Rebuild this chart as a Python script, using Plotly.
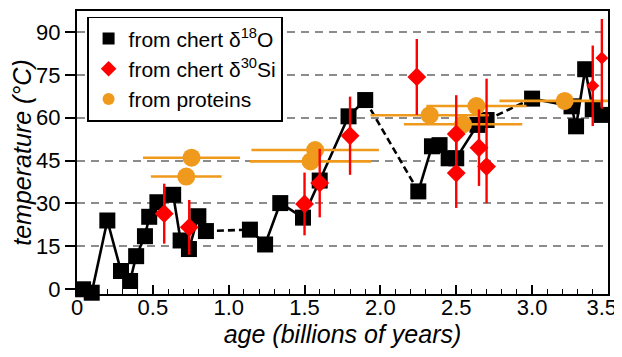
import plotly.graph_objects as go

# ---- data ----
# chert d18O temperatures (black squares)
age_o18 = [0.04, 0.097, 0.20, 0.29, 0.35, 0.39, 0.448, 0.476, 0.53, 0.634, 0.683, 0.738, 0.80, 0.85,
           1.14, 1.24, 1.34, 1.49, 1.60, 1.79, 1.90,
           2.25, 2.34, 2.39, 2.45, 2.50, 2.64, 2.70,
           3.00, 3.26, 3.29, 3.35, 3.40, 3.46]
temp_o18 = [-0.1, -1.3, 24.0, 6.3, 2.8, 11.5, 18.5, 25.3, 30.4, 33.0, 17.0, 14.0, 25.5, 20.3,
            20.8, 15.6, 30.1, 25.0, 38.0, 60.5, 66.2,
            34.2, 50.0, 50.4, 45.8, 45.8, 57.5, 59.2,
            66.7, 64.0, 57.0, 77.0, 63.0, 61.0]
# indices after which the connection to the next point is dashed (gaps in the record)
dashed_after = [13, 20, 27]

# chert d30Si temperatures (red diamonds)
age_si = [0.575, 0.74, 1.50, 1.60, 1.80, 2.24, 2.50, 2.50, 2.65, 2.70, 3.40, 3.46]
temp_si = [26.4, 21.6, 29.8, 37.1, 53.7, 74.3, 54.3, 40.6, 49.5, 42.9, 71.2, 80.9]
err_si_plus = [10.5, 9.6, 11.0, 12.0, 13.7, 13.3, 13.6, 12.2, 13.4, 30.8, 14.1, 13.7]
err_si_minus = [10.5, 9.6, 11.0, 12.0, 13.7, 13.3, 13.6, 12.2, 13.4, 12.8, 14.1, 17.7]

# protein-based temperatures (orange circles)
age_prot = [0.755, 0.72, 1.57, 1.54, 2.325, 2.545, 2.633, 3.215]
temp_prot = [46.0, 39.4, 48.7, 44.7, 60.9, 57.7, 64.1, 65.9]
err_age_prot = [0.32, 0.233, 0.42, 0.40, 0.39, 0.39, 0.33, 0.43]

x_ticks = [0, 0.5, 1.0, 1.5, 2.0, 2.5, 3.0, 3.5]
x_ticklabels = ["0", "0.5", "1.0", "1.5", "2.0", "2.5", "3.0", "3.5&nbsp;&nbsp;"]
y_ticks = [0, 15, 30, 45, 60, 75, 90]
y_grid = [15, 30, 45, 60, 75, 90]

series_names = ["from chert δ<sup>18</sup>O", "from chert δ<sup>30</sup>Si", "from proteins"]

# ---- styles ----
BLACK = "#000000"
RED = "#ff0000"
ORANGE = "#ef9a1c"
si_sizes = [14.5] * 10 + [10, 10]

# build solid and dashed line pieces from the data
solid_x, solid_y, dash_x, dash_y = [], [], [], []
for i in range(len(age_o18)):
    solid_x.append(age_o18[i])
    solid_y.append(temp_o18[i])
    if i in dashed_after:
        solid_x.append(None)
        solid_y.append(None)
        dash_x += [age_o18[i], age_o18[i + 1], None]
        dash_y += [temp_o18[i], temp_o18[i + 1], None]

fig = go.Figure()
fig.add_trace(go.Scatter(x=dash_x, y=dash_y, mode="lines",
                         line=dict(color=BLACK, width=2.6, dash="7px,4px"),
                         showlegend=False, hoverinfo="skip"))
fig.add_trace(go.Scatter(x=solid_x, y=solid_y, mode="lines",
                         line=dict(color=BLACK, width=2.6),
                         showlegend=False, hoverinfo="skip", cliponaxis=False))
fig.add_trace(go.Scatter(x=age_o18, y=temp_o18, mode="markers",
                         marker=dict(symbol="square", size=16, color=BLACK, opacity=1),
                         name=series_names[0], legendrank=1, cliponaxis=False))
fig.add_trace(go.Scatter(x=age_prot, y=temp_prot, mode="markers",
                         marker=dict(symbol="circle", size=18, color=ORANGE, opacity=1),
                         error_x=dict(type="data", array=err_age_prot, symmetric=True,
                                      color=ORANGE, thickness=2.6, width=0),
                         name=series_names[2], legendrank=3))
fig.add_trace(go.Scatter(x=age_si, y=temp_si, mode="markers",
                         marker=dict(symbol="diamond", size=si_sizes, color=RED, opacity=1,
                                     line=dict(width=0)),
                         error_y=dict(type="data", array=err_si_plus, arrayminus=err_si_minus,
                                      symmetric=False, color=RED, thickness=2.4, width=0),
                         name=series_names[1], legendrank=2))

# the page has an 8px body margin, so margins are reduced by 8px on the left/top
fig.update_layout(
    width=622, height=357,
    margin=dict(l=69, r=21, t=1, b=71),
    paper_bgcolor="white", plot_bgcolor="white",
    font=dict(family="Liberation Sans, Arial, sans-serif", size=22, color=BLACK),
    showlegend=True,
    legend=dict(x=0.0188, y=0.98, xanchor="left", yanchor="top",
                bgcolor="white", bordercolor=BLACK, borderwidth=1.6,
                font=dict(size=21, color=BLACK), tracegroupgap=0,
                itemsizing="constant", itemwidth=30),
    xaxis=dict(range=[0, 3.5005], tickvals=x_ticks, ticktext=x_ticklabels,
               ticks="inside", ticklen=9, tickwidth=1.5, tickcolor=BLACK,
               ticklabelstandoff=-7, ticklabeloverflow="allow",
               minor=dict(dtick=0.1, ticks="inside", ticklen=5, tickwidth=1.2, tickcolor=BLACK),
               showline=True, linecolor=BLACK, linewidth=2, mirror=True,
               showgrid=False, zeroline=False,
               title=dict(text="<i>age (billions of years)</i>", font=dict(size=25), standoff=4)),
    yaxis=dict(range=[-1.75, 97.4], tickvals=y_ticks,
               ticks="outside", ticklen=10, tickwidth=1.5, tickcolor=BLACK,
               showline=True, linecolor=BLACK, linewidth=2, mirror=True,
               showgrid=False, zeroline=False,
               minor=dict(tickvals=y_grid, ticks="", showgrid=True, gridcolor="#8c8c8c",
                          gridwidth=1.5, griddash="8px,6px"),
               title=dict(text="<i>temperature (°C)</i>", font=dict(size=25), standoff=7)),
)

fig.write_html("out.html")
